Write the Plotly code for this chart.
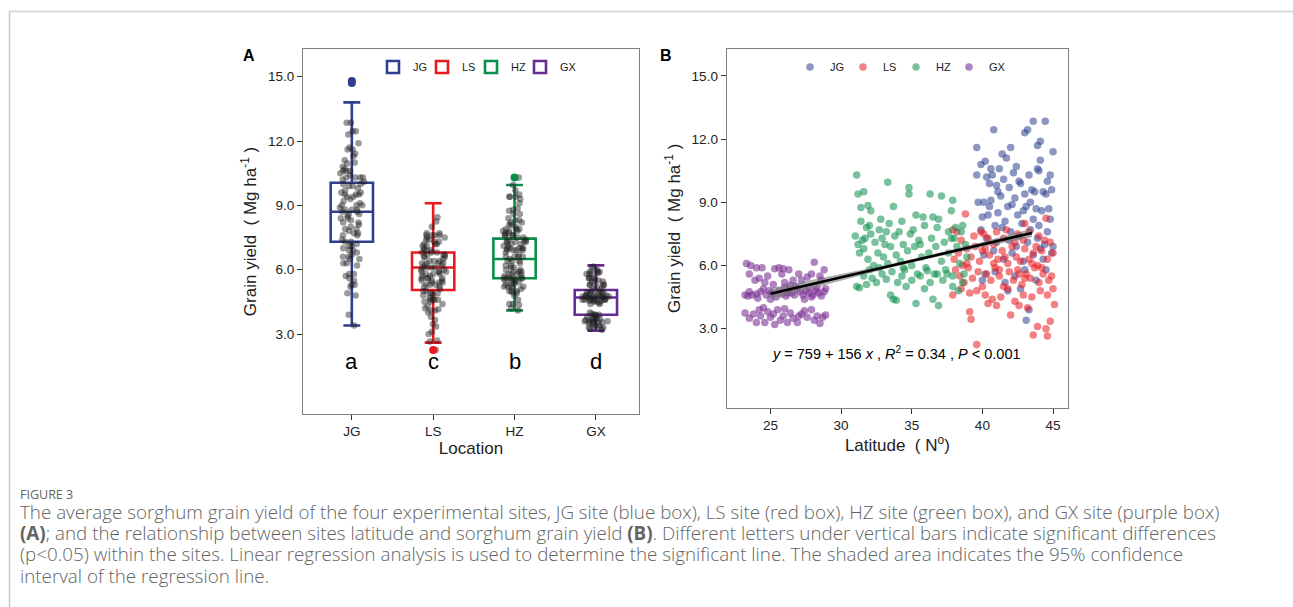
import plotly.graph_objects as go

W, H = 1293, 607

# ---------------- data ----------------
sites = ["JG", "LS", "HZ", "GX"]
box_colors = ["#2E3F8F", "#E8191F", "#0B8E4A", "#662D91"]
point_colors = ["rgba(46,63,143,0.55)", "rgba(232,25,31,0.55)", "rgba(11,142,74,0.55)", "rgba(123,50,148,0.6)"]

# box statistics (panel A)
box_q1 = [7.3, 5.05, 5.6, 3.9]
box_median = [8.7, 6.1, 6.5, 4.7]
box_q3 = [10.05, 6.8, 7.45, 5.05]
box_lower = [3.4, 2.6, 4.1, 3.15]
box_upper = [13.8, 9.1, 9.95, 6.2]
outlier_site = ["JG", "JG", "LS", "HZ"]
outlier_yield = [14.8, 14.7, 2.25, 10.3]
letters = ["a", "c", "b", "d"]

# observations: (latitude, grain yield Mg/ha)
jg_points = [
    (39.6, 11.6), (40.8, 12.45), (43.6, 12.85), (44.45, 12.85), (43.0, 12.3), (43.2, 12.45), (42.0, 11.6),
    (44.1, 11.9), (43.9, 11.7), (45.0, 11.4), (41.4, 11.3), (41.7, 11.1), (39.9, 10.8), (40.2, 10.95),
    (42.4, 10.7), (43.9, 10.6), (44.1, 11.0), (41.2, 10.6), (44.8, 10.3),
    (39.6, 10.3), (40.3, 10.2), (40.5, 9.9), (40.7, 10.3), (41.0, 9.8), (41.5, 10.1), (41.9, 9.7), (42.2, 10.4),
    (42.7, 9.9), (43.3, 10.3), (43.7, 9.5), (44.0, 10.5), (44.5, 9.4), (44.9, 9.6), (40.1, 9.0), (40.6, 9.1),
    (41.3, 9.3), (41.8, 8.8), (42.3, 9.2), (42.9, 8.6), (43.4, 9.0), (43.8, 8.7), (44.3, 9.5), (44.7, 8.7),
    (39.7, 9.0), (40.4, 8.4), (41.1, 8.5), (41.6, 8.1), (42.5, 8.4), (43.1, 8.8), (43.6, 8.2), (44.2, 8.6),
    (44.8, 8.2), (40.0, 8.3), (40.9, 7.9), (41.4, 7.8), (42.0, 7.6), (42.8, 8.0), (43.4, 7.7), (44.0, 7.9),
    (44.6, 7.6), (39.9, 7.7), (40.3, 7.3), (41.0, 7.1), (41.9, 7.2), (42.6, 7.4), (43.2, 7.1), (43.9, 7.3),
    (44.4, 7.0), (45.0, 6.9), (40.1, 6.5), (40.8, 6.7), (41.5, 6.3), (42.1, 6.6), (42.9, 6.2), (43.6, 6.5),
    (44.3, 6.3), (44.9, 6.6), (40.2, 5.6), (40.9, 5.7), (41.6, 5.2), (42.3, 5.5), (43.0, 5.8), (43.8, 5.3),
    (44.5, 5.8), (41.8, 4.8), (42.7, 4.9), (40.0, 5.3), (43.3, 3.9), (43.1, 3.4), (44.1, 6.8), (42.4, 6.9),
    (40.6, 10.6), (42.6, 10.0), (41.1, 9.5), (43.5, 9.6), (44.6, 10.0), (40.5, 8.8), (42.1, 8.9), (43.0, 9.4),
]

ls_points = [
    (38.8, 8.45), (44.5, 8.25), (43.0, 8.0), (37.9, 7.7), (38.2, 7.6), (38.5, 7.2), (39.9, 7.6), (40.1, 7.5),
    (40.4, 7.3), (41.0, 7.6), (41.7, 7.7), (42.5, 7.5), (43.3, 7.6), (44.0, 7.4), (44.8, 7.1), (38.0, 6.3),
    (38.3, 6.6), (38.6, 6.0), (38.9, 6.8), (39.2, 6.4), (39.5, 6.9), (39.8, 6.2), (40.2, 6.8), (40.5, 6.5),
    (40.8, 7.0), (41.1, 6.3), (41.4, 6.7), (41.8, 6.1), (42.1, 6.9), (42.4, 6.4), (42.7, 6.2), (43.0, 6.8),
    (43.3, 6.3), (43.6, 6.6), (43.9, 6.0), (44.2, 6.7), (44.6, 6.3), (45.0, 6.6), (38.1, 5.8), (38.4, 5.5),
    (38.7, 5.2), (39.0, 5.9), (39.3, 5.4), (39.7, 5.7), (40.0, 5.0), (40.3, 5.6), (40.6, 5.3), (40.9, 5.9),
    (41.2, 5.5), (41.5, 5.0), (41.9, 5.7), (42.2, 5.3), (42.5, 5.8), (42.8, 5.1), (43.1, 5.6), (43.4, 5.4),
    (43.7, 5.9), (44.0, 5.2), (44.3, 5.6), (44.7, 5.3), (45.0, 4.9), (37.9, 4.6), (38.5, 4.9), (39.1, 4.7),
    (39.6, 4.8), (40.2, 4.6), (40.7, 4.4), (41.3, 4.5), (41.8, 4.9), (42.3, 4.3), (42.9, 4.6), (43.5, 4.5),
    (44.1, 4.8), (44.6, 4.6), (42.0, 3.65), (42.6, 4.1), (43.2, 4.0), (39.2, 3.45), (39.1, 3.8), (39.6, 2.25),
    (43.6, 2.7), (44.6, 2.65), (44.5, 3.0), (43.9, 3.1), (44.8, 3.35), (45.1, 4.15), (41.0, 4.1), (40.4, 4.2),
    (40.0, 6.7), (41.6, 6.4), (42.3, 7.1), (43.8, 6.9), (44.4, 7.2), (39.4, 7.4), (42.9, 7.2), (41.2, 5.8),
    (43.0, 5.4), (44.9, 5.5), (40.8, 6.1), (43.5, 6.1), (38.9, 6.1), (41.5, 7.3), (42.6, 5.6), (44.2, 5.9),
]

hz_points = [
    (31.1, 10.3), (31.2, 9.4), (31.6, 9.5), (31.4, 8.75), (31.9, 8.85), (32.1, 8.6), (33.3, 9.95), (34.8, 9.7),
    (34.8, 9.4), (36.3, 9.4), (37.1, 9.3), (37.9, 9.1), (33.7, 8.8), (35.3, 8.4), (36.5, 8.3), (37.8, 8.6),
    (32.8, 8.2), (31.0, 7.4), (31.2, 7.0), (31.3, 6.6), (31.5, 7.2), (31.6, 6.8), (31.8, 7.8), (31.9, 6.3),
    (32.1, 7.5), (32.3, 6.0), (32.4, 7.1), (32.6, 6.6), (32.7, 5.9), (32.9, 7.3), (33.0, 6.4), (33.2, 7.6),
    (33.3, 6.1), (33.5, 6.9), (33.6, 5.7), (33.8, 7.4), (33.9, 6.5), (34.1, 7.6), (34.2, 6.2), (34.4, 7.0),
    (34.5, 5.8), (34.7, 6.7), (34.9, 7.5), (35.0, 6.0), (35.2, 6.9), (35.4, 5.6), (35.5, 7.2), (35.7, 6.4),
    (35.9, 7.9), (36.0, 5.9), (36.2, 6.6), (36.4, 7.3), (36.6, 5.6), (36.7, 6.9), (36.9, 8.2), (37.1, 6.2),
    (37.3, 7.1), (37.4, 5.8), (37.6, 6.6), (37.8, 7.3), (37.9, 5.5), (38.1, 7.8), (38.2, 6.9), (38.4, 6.1),
    (38.5, 7.6), (38.7, 5.6), (38.8, 7.0), (38.9, 6.4), (31.1, 5.0), (31.3, 4.95), (31.6, 5.5), (32.0, 5.8),
    (32.2, 5.4), (32.5, 5.2), (32.9, 5.6), (33.2, 5.35), (33.5, 4.6), (33.7, 4.4), (33.9, 4.35), (34.0, 5.2),
    (34.3, 5.5), (34.6, 5.0), (35.0, 5.3), (35.3, 4.2), (35.6, 5.5), (35.9, 4.9), (36.3, 5.2), (36.5, 4.4),
    (36.8, 5.6), (36.9, 4.1), (37.2, 5.3), (37.5, 5.6), (37.9, 5.0), (38.3, 4.8), (38.6, 5.2), (31.8, 5.1),
    (34.4, 5.9), (36.1, 5.75), (31.4, 8.1), (32.0, 7.9), (32.7, 7.7), (33.4, 8.0), (34.3, 8.1), (35.1, 7.7),
    (35.8, 8.3), (36.8, 7.8), (37.6, 7.6), (38.6, 7.9), (31.7, 7.3), (33.1, 7.0), (35.6, 7.0), (38.0, 7.3),
]

gx_points = [
    (23.3, 6.1), (23.6, 6.0), (23.5, 5.6), (24.0, 5.9), (24.4, 5.9), (24.2, 5.4), (24.6, 5.2), (25.3, 5.85),
    (25.6, 5.9), (25.9, 5.85), (25.8, 5.6), (26.3, 5.8), (25.2, 5.1), (26.0, 5.2), (26.6, 5.3), (26.8, 5.0),
    (27.2, 5.3), (27.6, 5.45), (27.9, 5.6), (28.1, 6.15), (28.5, 5.5), (28.8, 5.8), (28.6, 5.3), (27.0, 5.6),
    (26.4, 5.05), (24.8, 5.5), (23.9, 5.3),
    (23.2, 4.6), (23.4, 4.55), (23.7, 4.6), (24.0, 4.65), (24.3, 4.75), (24.5, 4.9), (24.7, 4.6), (24.9, 4.8),
    (25.1, 4.7), (25.4, 4.5), (25.6, 4.8), (25.8, 4.65), (26.1, 4.55), (26.3, 4.85), (26.5, 4.7), (26.7, 4.6),
    (26.9, 4.9), (27.1, 4.75), (27.3, 4.6), (27.5, 4.8), (27.7, 4.7), (27.8, 4.95), (28.0, 4.6), (28.2, 4.8),
    (28.4, 4.7), (28.6, 4.55), (28.8, 4.75), (28.9, 4.9), (27.9, 4.5), (25.0, 4.4), (26.0, 4.95), (24.1, 4.45),
    (28.3, 4.95), (27.4, 4.4), (23.5, 4.75), (26.2, 4.7),
    (23.2, 3.75), (23.5, 3.5), (23.8, 3.7), (24.0, 3.3), (24.3, 3.6), (24.5, 4.0), (24.6, 3.3), (24.8, 3.8),
    (25.0, 3.55), (25.2, 3.7), (25.5, 3.9), (25.7, 3.4), (25.9, 3.6), (26.2, 3.3), (26.4, 3.75), (26.6, 3.5),
    (26.9, 3.3), (27.2, 3.7), (27.4, 3.85), (27.6, 3.55), (27.9, 3.9), (28.1, 3.4), (28.3, 3.6), (28.5, 3.25),
    (28.7, 3.55), (28.9, 3.65), (25.3, 3.2), (26.0, 3.95), (24.2, 3.9), (27.0, 3.6),
]

site_points = [jg_points, ls_points, hz_points, gx_points]

# regression (panel B): y = 0.759 + 0.156 x  (Mg/ha), fitted latitude span and 95% CI half-widths
fit_intercept = 0.759
fit_slope = 0.156
ci_lat = [25.0, 29.0, 33.0, 36.0, 40.0, 43.5]
ci_half = [0.26, 0.16, 0.09, 0.08, 0.12, 0.2]

caption_title = "FIGURE 3"
caption_lines = [
    "The average sorghum grain yield of the four experimental sites, JG site (blue box), LS site (red box), HZ site (green box), and GX site (purple box)",
    "<b>(A)</b>; and the relationship between sites latitude and sorghum grain yield <b>(B)</b>. Different letters under vertical bars indicate significant differences",
    "(p&lt;0.05) within the sites. Linear regression analysis is used to determine the significant line. The shaded area indicates the 95% confidence",
    "interval of the regression line.",
]

# ---------------- figure ----------------
FONT = "Arial, Liberation Sans, sans-serif"
fig = go.Figure()

# Panel A: boxes
for i, s in enumerate(sites):
    fig.add_trace(go.Box(
        x=[s], q1=[box_q1[i]], median=[box_median[i]], q3=[box_q3[i]],
        lowerfence=[box_lower[i]], upperfence=[box_upper[i]],
        name=s, boxpoints=False, width=0.52, whiskerwidth=0.4,
        line=dict(color=box_colors[i], width=2.6), fillcolor="rgba(255,255,255,0)",
        xaxis="x", yaxis="y", legend="legend", showlegend=True,
    ))
# invisible spacer entry so the last legend label is not clipped
fig.add_trace(go.Box(x=[None], y=[None], name=" ", line=dict(width=0, color="rgba(0,0,0,0)"),
                     fillcolor="rgba(0,0,0,0)", xaxis="x", yaxis="y", legend="legend",
                     showlegend=True, hoverinfo="skip"))
# Panel A: jittered observations
for i, s in enumerate(sites):
    ys = [p[1] for p in site_points[i]]
    fig.add_trace(go.Box(
        x=[s] * len(ys), y=ys, name=s, boxpoints="all", jitter=0.8, pointpos=0,
        width=0.42, line=dict(width=0, color="rgba(0,0,0,0)"), fillcolor="rgba(0,0,0,0)",
        marker=dict(color="rgba(30,30,30,0.45)", size=6.5),
        xaxis="x", yaxis="y", showlegend=False,
    ))
# Panel A: outliers
fig.add_trace(go.Scatter(
    x=outlier_site, y=outlier_yield, mode="markers",
    marker=dict(color=[box_colors[sites.index(s)] for s in outlier_site], size=8),
    xaxis="x", yaxis="y", showlegend=False,
))

# Panel B: scatter points
for i, s in enumerate(sites):
    fig.add_trace(go.Scatter(
        x=[p[0] for p in site_points[i]], y=[p[1] for p in site_points[i]],
        mode="markers", name=s,
        marker=dict(color=point_colors[i], size=7.5),
        xaxis="x2", yaxis="y2", legend="legend2",
    ))
fig.add_trace(go.Scatter(x=[None], y=[None], mode="markers", name=" ",
                         marker=dict(color="rgba(0,0,0,0)", size=7.5),
                         xaxis="x2", yaxis="y2", legend="legend2", hoverinfo="skip"))
# Panel B: confidence band and regression line
band_x = ci_lat + ci_lat[::-1]
band_y = [fit_intercept + fit_slope * x + h for x, h in zip(ci_lat, ci_half)] + \
         [fit_intercept + fit_slope * x - h for x, h in zip(ci_lat[::-1], ci_half[::-1])]
fig.add_trace(go.Scatter(x=band_x, y=band_y, fill="toself", mode="lines",
                         line=dict(width=0), fillcolor="rgba(120,120,120,0.6)",
                         xaxis="x2", yaxis="y2", showlegend=False))
fig.add_trace(go.Scatter(x=[ci_lat[0], ci_lat[-1]],
                         y=[fit_intercept + fit_slope * ci_lat[0], fit_intercept + fit_slope * ci_lat[-1]],
                         mode="lines", line=dict(color="black", width=2.6),
                         xaxis="x2", yaxis="y2", showlegend=False))

def px_x(p):
    return p / W

def px_y(p):
    return 1 - p / H

axis_common = dict(showline=True, mirror=True, linecolor="#7f7f7f", linewidth=1.2,
                   ticks="outside", ticklen=5, tickcolor="#333", tickwidth=1.2,
                   showgrid=False, zeroline=False,
                   tickfont=dict(family=FONT, size=13.5, color="#222"))
ytitle = "Grain yield  ( Mg ha<sup>-1</sup> )"

fig.update_layout(
    width=W, height=H, margin=dict(l=0, r=0, t=0, b=0),
    paper_bgcolor="white", plot_bgcolor="white",
    font=dict(family=FONT, color="#222"),
    boxmode="overlay",
    xaxis=dict(domain=[px_x(303), px_x(639)], type="category", categoryorder="array",
               categoryarray=sites, range=[-0.6, 3.53], anchor="y",
               title=dict(text="Location", font=dict(size=17), standoff=0), **axis_common),
    yaxis=dict(domain=[px_y(414), px_y(49)], range=[-0.73, 16.29], anchor="x",
               tickvals=[3, 6, 9, 12, 15], tickformat=".1f",
               title=dict(text=ytitle, font=dict(size=17), standoff=6),
               **axis_common),
    xaxis2=dict(domain=[px_x(726.7), px_x(1068)], range=[21.9, 46.06], anchor="y2",
                tickvals=[25, 30, 35, 40, 45],
                title=dict(text="Latitude  ( N<sup>o</sup>)", font=dict(size=17), standoff=0), **axis_common),
    yaxis2=dict(domain=[px_y(407.7), px_y(49)], range=[-0.75, 16.28], anchor="x2",
                tickvals=[3, 6, 9, 12, 15], tickformat=".1f",
                title=dict(text=ytitle, font=dict(size=17), standoff=6),
                **axis_common),
    legend=dict(orientation="h", x=px_x(373), y=px_y(67), xanchor="left", yanchor="middle",
                font=dict(size=11, family=FONT), bgcolor="rgba(0,0,0,0)",
                entrywidth=4, entrywidthmode="pixels", traceorder="normal"),
    legend2=dict(orientation="h", x=px_x(790), y=px_y(67), xanchor="left", yanchor="middle",
                 font=dict(size=11, family=FONT), bgcolor="rgba(0,0,0,0)",
                 entrywidth=8, entrywidthmode="pixels", traceorder="normal"),
)

annotations = []
for i, s in enumerate(sites):
    annotations.append(dict(x=s, y=1.7, xref="x", yref="y", text=letters[i], showarrow=False,
                            yanchor="middle", font=dict(size=22, family=FONT, color="black")))
annotations.append(dict(x=33.9, y=1.85, xref="x2", yref="y2", yanchor="middle",
                        text="<i>y</i> = 759 + 156 <i>x</i> , <i>R</i><sup>2</sup> = 0.34 , <i>P</i> &lt; 0.001",
                        showarrow=False, font=dict(size=14.5, family=FONT, color="black")))
annotations.append(dict(x=px_x(241), y=px_y(55), xref="paper", yref="paper", text="<b>A</b>",
                        yanchor="middle", showarrow=False, font=dict(size=16, family=FONT, color="black")))
annotations.append(dict(x=px_x(666), y=px_y(55), xref="paper", yref="paper", text="<b>B</b>",
                        yanchor="middle", showarrow=False, font=dict(size=16, family=FONT, color="black")))
CAP_FONT = "Open Sans, Lato, sans-serif"
annotations.append(dict(x=px_x(18), y=px_y(494), xref="paper", yref="paper", text=caption_title,
                        xanchor="left", yanchor="middle", showarrow=False,
                        font=dict(size=12.5, family=CAP_FONT, color="#666")))
for k, line in enumerate(caption_lines):
    annotations.append(dict(x=px_x(18), y=px_y(512 + 21.2 * k), xref="paper", yref="paper", text=line,
                            xanchor="left", yanchor="middle", showarrow=False,
                            font=dict(size=18.8, family=CAP_FONT, color="#646464", weight=300)))
fig.update_layout(annotations=annotations)

fig.update_layout(shapes=[
    dict(type="line", xref="paper", yref="paper", x0=px_x(9), x1=1, y0=px_y(11.5), y1=px_y(11.5),
         line=dict(color="#dcdcdc", width=2)),
    dict(type="line", xref="paper", yref="paper", x0=px_x(9.5), x1=px_x(9.5), y0=0, y1=px_y(11),
         line=dict(color="#c8c8c8", width=1.5)),
])

fig.write_html("out.html")
